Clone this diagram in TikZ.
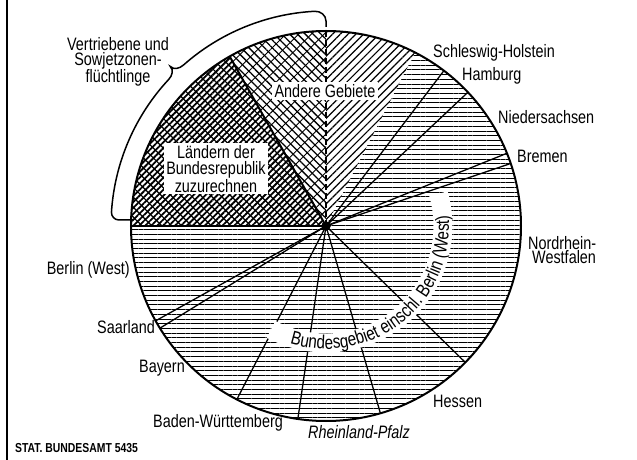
\documentclass[tikz,border=0pt]{standalone}
\usepackage{fontspec}
\setmainfont[FakeStretch=0.8]{Liberation Sans}
\usepackage{tikz}
\usetikzlibrary{patterns.meta,decorations.text}

\begin{document}
\begin{tikzpicture}[x=1pt,y=1pt,
    lbl/.style={font=\fontsize{18}{14.5}\selectfont, inner sep=0pt},
    sector/.style={black, line width=1.3pt},
    hatchH/.style={pattern={Lines[angle=0,distance=4.7pt,line width=0.9pt]}},
    hatchA/.style={pattern={Lines[angle=45,distance=5.5pt,line width=1.2pt]}},
    hatchB/.style={pattern={Lines[angle=-45,distance=5.5pt,line width=1.3pt]}},
    hatchBs/.style={pattern={Lines[angle=45,distance=9pt,line width=0.9pt]}},
    hatchL/.style={pattern={Lines[angle=45,distance=4.2pt,line width=1.8pt]}},
    hatchLs/.style={pattern={Lines[angle=-45,distance=7pt,line width=1.2pt]}}]
            \useasboundingbox (-326,-234) rectangle (311,226);
            \coordinate (C) at (0,0);
            \fill[hatchH] (C) -- (62.8:195) arc[start angle=62.8, end angle=-180, radius=195] -- cycle;
            \fill[hatchA] (C) -- (90:195) arc[start angle=90, end angle=62.8, radius=195] -- cycle;
            \fill[hatchB] (C) -- (119.6:195) arc[start angle=119.6, end angle=90, radius=195] -- cycle;
            \fill[hatchBs] (C) -- (119.6:195) arc[start angle=119.6, end angle=90, radius=195] -- cycle;
            \fill[hatchL] (C) -- (180:195) arc[start angle=180, end angle=119.6, radius=195] -- cycle;
            \fill[hatchLs] (C) -- (180:195) arc[start angle=180, end angle=119.6, radius=195] -- cycle;
            \foreach \a in {52.8,43.3,21.9,18.7,-44.4,-73.8,-98.3,-117.2,-148.4,-150.9}
                \draw[sector] (C) -- (\a:195);
            \draw[black, line width=2.2pt] (C) -- (180:195);
            \draw[black, line width=2pt] (C) -- (119.6:195);
            \draw[black, line width=1.8pt, dash pattern=on 6pt off 3pt] (C) -- (90:195);
            \draw[white, line width=19pt] (-118:117) arc[start angle=-118, end angle=16, radius=117];
            \path[decorate, decoration={text along path, text align=center,
                text={|\fontsize{19}{19}\selectfont|Bundesgebiet einschl. Berlin (West)}}]
                (-117:123) arc[start angle=-117, end angle=15, radius=123];
            \draw[black, line width=2pt] (C) circle (195);
            \filldraw[black] (C) circle (4.5);
            \node[lbl, fill=white, inner sep=2.5pt] (andere) at (-1,135) {Andere Gebiete};
            \node[lbl, fill=white, inner sep=2pt, align=center, font=\fontsize{18}{16}\selectfont] (laendern) at (-110,57) {Ländern der\\Bundesrepublik\\zuzurechnen};
            \node[lbl, align=center] (vertr) at (-208,164) {Vertriebene und\\Sowjetzonen-\\flüchtlinge};
            \node[lbl, anchor=west] (schleswig) at (107,173) {Schleswig-Holstein};
            \node[lbl, anchor=west] (hamburg) at (136,150) {Hamburg};
            \node[lbl, anchor=west] (nieder) at (172,109) {Niedersachsen};
            \node[lbl, anchor=west] (bremen) at (191,70) {Bremen};
            \node[lbl, anchor=west, align=left] (nrw) at (202,-24) {Nordrhein-\\\ Westfalen};
            \node[lbl, anchor=west] (hessen) at (107,-175) {Hessen};
            \node[lbl, anchor=west, font=\fontsize{18}{14.5}\selectfont\itshape] (rheinland) at (-18,-206) {Rheinland-Pfalz};
            \node[lbl] (baden) at (-108,-197) {Baden-Württemberg};
            \node[lbl, anchor=east] (bayern) at (-141,-142) {Bayern};
            \node[lbl, anchor=east] (saarland) at (-171,-101) {Saarland};
            \node[lbl, anchor=east] (berlin) at (-196,-44) {Berlin (West)};
            \node[anchor=west, inner sep=0pt, font=\bfseries\fontsize{13}{14}\selectfont] (stat) at (-311,-222) {STAT. BUNDESAMT 5435};
            \draw[black, line width=1.5pt] (-193,6) -- (-207,6) to[out=180,in=-93.7] (176.3:215)
                arc[start angle=176.3, end angle=137, radius=215]
                to[out=47,in=-45.7] (134.3:223) to[out=-45.7,in=221.5] (131.5:215)
                arc[start angle=131.5, end angle=93, radius=215]
                to[out=3,in=90] (0,205) -- (0,199);
            \draw[black, line width=1.5pt] (-319,226) -- (-319,-234);
        \end{tikzpicture}
\end{document}
